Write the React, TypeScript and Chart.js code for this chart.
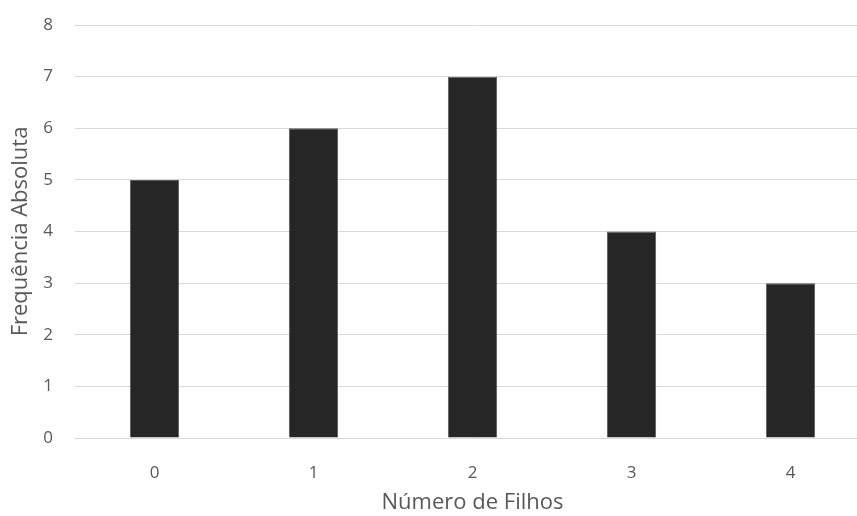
import React, { useEffect, useRef } from "react";
import { Chart, registerables } from "chart.js";

Chart.register(...registerables);

const categories = ["0", "1", "2", "3", "4"];
const frequencies = [5, 6, 7, 4, 3];
const yTicks = [0, 1, 2, 3, 4, 5, 6, 7, 8];

const textColor = "#595959";
const fontFamily = "'Open Sans', 'Noto Sans', sans-serif";

export default function App() {
  const canvasRef = useRef<HTMLCanvasElement | null>(null);

  useEffect(() => {
    if (!canvasRef.current) return;
    const chart = new Chart(canvasRef.current, {
      type: "bar",
      data: {
        labels: categories,
        datasets: [
          {
            label: "Frequência Absoluta",
            data: frequencies,
            backgroundColor: "#262626",
            borderColor: "#5a5a5a",
            borderWidth: 1,
            categoryPercentage: 1,
            barPercentage: 0.31,
          },
        ],
      },
      options: {
        animation: false,
        responsive: false,
        maintainAspectRatio: false,
        layout: { padding: { left: 8, right: 10, top: 25, bottom: 0 } },
        plugins: { legend: { display: false }, tooltip: { enabled: false } },
        scales: {
          x: {
            grid: { display: false },
            border: { display: false },
            ticks: {
              color: textColor,
              font: { family: fontFamily, size: 17 },
              padding: 17,
            },
            title: {
              display: true,
              text: "Número de Filhos",
              color: textColor,
              font: { family: fontFamily, size: 22 },
              padding: { top: 1, bottom: 0 },
            },
            afterFit: (s: any) => {
              s.height = 78;
              s.paddingLeft = 0;
              s.paddingRight = 0;
            },
          },
          y: {
            min: 0,
            max: 8,
            afterBuildTicks: (s: any) => {
              s.ticks = yTicks.map((v) => ({ value: v }));
            },
            grid: { color: "#d9d9d9", lineWidth: 1, drawTicks: false },
            border: { display: false },
            ticks: {
              color: textColor,
              font: { family: fontFamily, size: 17 },
              padding: 22,
            },
            title: {
              display: true,
              text: "Frequência Absoluta",
              color: textColor,
              font: { family: fontFamily, size: 22 },
              padding: { top: 0, bottom: 0 },
            },
            afterFit: (s: any) => {
              s.width = 67;
              s.paddingTop = 0;
              s.paddingBottom = 0;
            },
          },
        },
      },
    });
    return () => chart.destroy();
  }, []);

  return (
    <div style={{ position: "fixed", left: 0, top: 0, width: 880, height: 516, background: "#ffffff" }}>
      <canvas ref={canvasRef} width={880} height={516} />
    </div>
  );
}
